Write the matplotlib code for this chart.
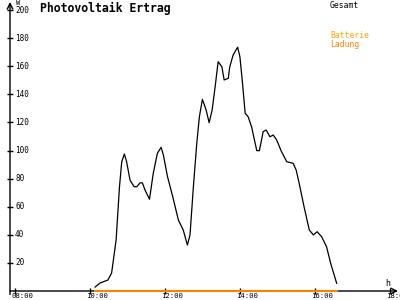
import matplotlib
matplotlib.use("Agg")
import matplotlib.pyplot as plt
import matplotlib.transforms as mtransforms

# Gesamt (W) over time of day (decimal hours)
zeit = [10.13, 10.26, 10.47, 10.57, 10.69, 10.78, 10.84, 10.91, 10.97, 11.06,
        11.17, 11.24, 11.33, 11.39, 11.46, 11.58, 11.68, 11.79, 11.89, 11.95,
        12.06, 12.20, 12.35, 12.48, 12.59, 12.66, 12.75, 12.84, 12.91, 12.99,
        13.09, 13.17, 13.25, 13.33, 13.41, 13.51, 13.57, 13.68, 13.72, 13.81,
        13.93, 13.99, 14.06, 14.13, 14.21, 14.30, 14.44, 14.51, 14.61, 14.69,
        14.79, 14.88, 14.97, 15.10, 15.24, 15.41, 15.49, 15.57, 15.70, 15.84,
        15.95, 16.05, 16.17, 16.30, 16.41, 16.57]
gesamt = [2.8, 5.7, 7.8, 12.8, 36.3, 74.2, 92, 97.5, 92, 79,
          74.2, 74.2, 77, 77, 71.9, 65.3, 83.8, 98, 102.3, 96.8,
          81.4, 67.1, 50.5, 43.4, 32.7, 39.9, 74.2, 105, 124, 136.4,
          128.8, 119.8, 128.8, 145.4, 163.2, 159.6, 150.2, 151.4, 159.6, 168,
          173.5, 166.8, 147.8, 126.5, 124, 117, 99.9, 99.9, 113.4, 114.6,
          109.8, 111, 107.5, 99.1, 92, 90.9, 86.1, 76.7, 60, 43.4,
          39.9, 42.2, 38.6, 31.5, 19.7, 5.5]
ladung = [0] * len(zeit)

x_ticks = [8, 10, 12, 14, 16, 18]
x_labels = ["08:00", "10:00", "12:00", "14:00", "16:00", "18:00"]
y_ticks = [20, 40, 60, 80, 100, 120, 140, 160, 180, 200]

mono = "DejaVu Sans Mono"

fig = plt.figure(figsize=(4, 3), dpi=100)
ax = fig.add_axes([10 / 400, 9 / 300, 388 / 400, 289 / 300])
ax.set_xlim(7.861, 18.205)
ax.set_ylim(0, 205.7)
for s in ax.spines.values():
    s.set_visible(False)

# axes with arrows
ax.annotate("", xy=(1, 0), xytext=(0, 0), xycoords="axes fraction",
            arrowprops=dict(arrowstyle="->", lw=1, color="black", shrinkA=0, shrinkB=0))
ax.annotate("", xy=(0, 1), xytext=(0, -0.012), xycoords="axes fraction",
            arrowprops=dict(arrowstyle="->", lw=1, color="black", shrinkA=0, shrinkB=0))

ax.plot(zeit, gesamt, color="black", lw=0.9)
ax.plot(zeit, ladung, color="#ff8000", lw=1.5, clip_on=False, zorder=5)

ax.set_xticks(x_ticks)
ax.set_xticklabels([])
ax.set_yticks(y_ticks)
ax.set_yticklabels([])
ax.tick_params(axis="x", direction="inout", length=5, width=1)
ax.tick_params(axis="y", direction="inout", length=4, width=1)

# x tick labels, left aligned just before the tick
off = mtransforms.ScaledTranslation(-4 / 100, -2 / 100, fig.dpi_scale_trans)
for t, lab in zip(x_ticks, x_labels):
    ax.text(t, 0, lab, transform=ax.get_xaxis_transform() + off, ha="left", va="top",
            family=mono, fontsize=5.2, clip_on=False)

# y tick labels to the right of the axis
for v in y_ticks:
    ax.text(5 / 388, v, str(v), transform=ax.get_yaxis_transform(), ha="left", va="center",
            family=mono, fontsize=5.5)

fig.text(16 / 400, 1 - 3 / 300, "W", family=mono, fontsize=5, va="center", ha="left")
fig.text(385 / 400, 1 - 283 / 300, "h", family=mono, fontsize=6, va="center", ha="left")

fig.text(40 / 400, 1 - 8 / 300, "Photovoltaik Ertrag", family=mono, fontsize=8.3,
         fontweight="bold", va="center", ha="left")
fig.text(330 / 400, 1 - 5 / 300, "Gesamt", family=mono, fontsize=5.8, va="center", ha="left")
fig.text(330 / 400, 1 - 36 / 300, "Batterie", family=mono, fontsize=5.8, va="center",
         ha="left", color="#ffa500")
fig.text(330 / 400, 1 - 44 / 300, "Ladung", family=mono, fontsize=5.8, va="center",
         ha="left", color="#ff8000")

fig.savefig("out.png", dpi=100)
